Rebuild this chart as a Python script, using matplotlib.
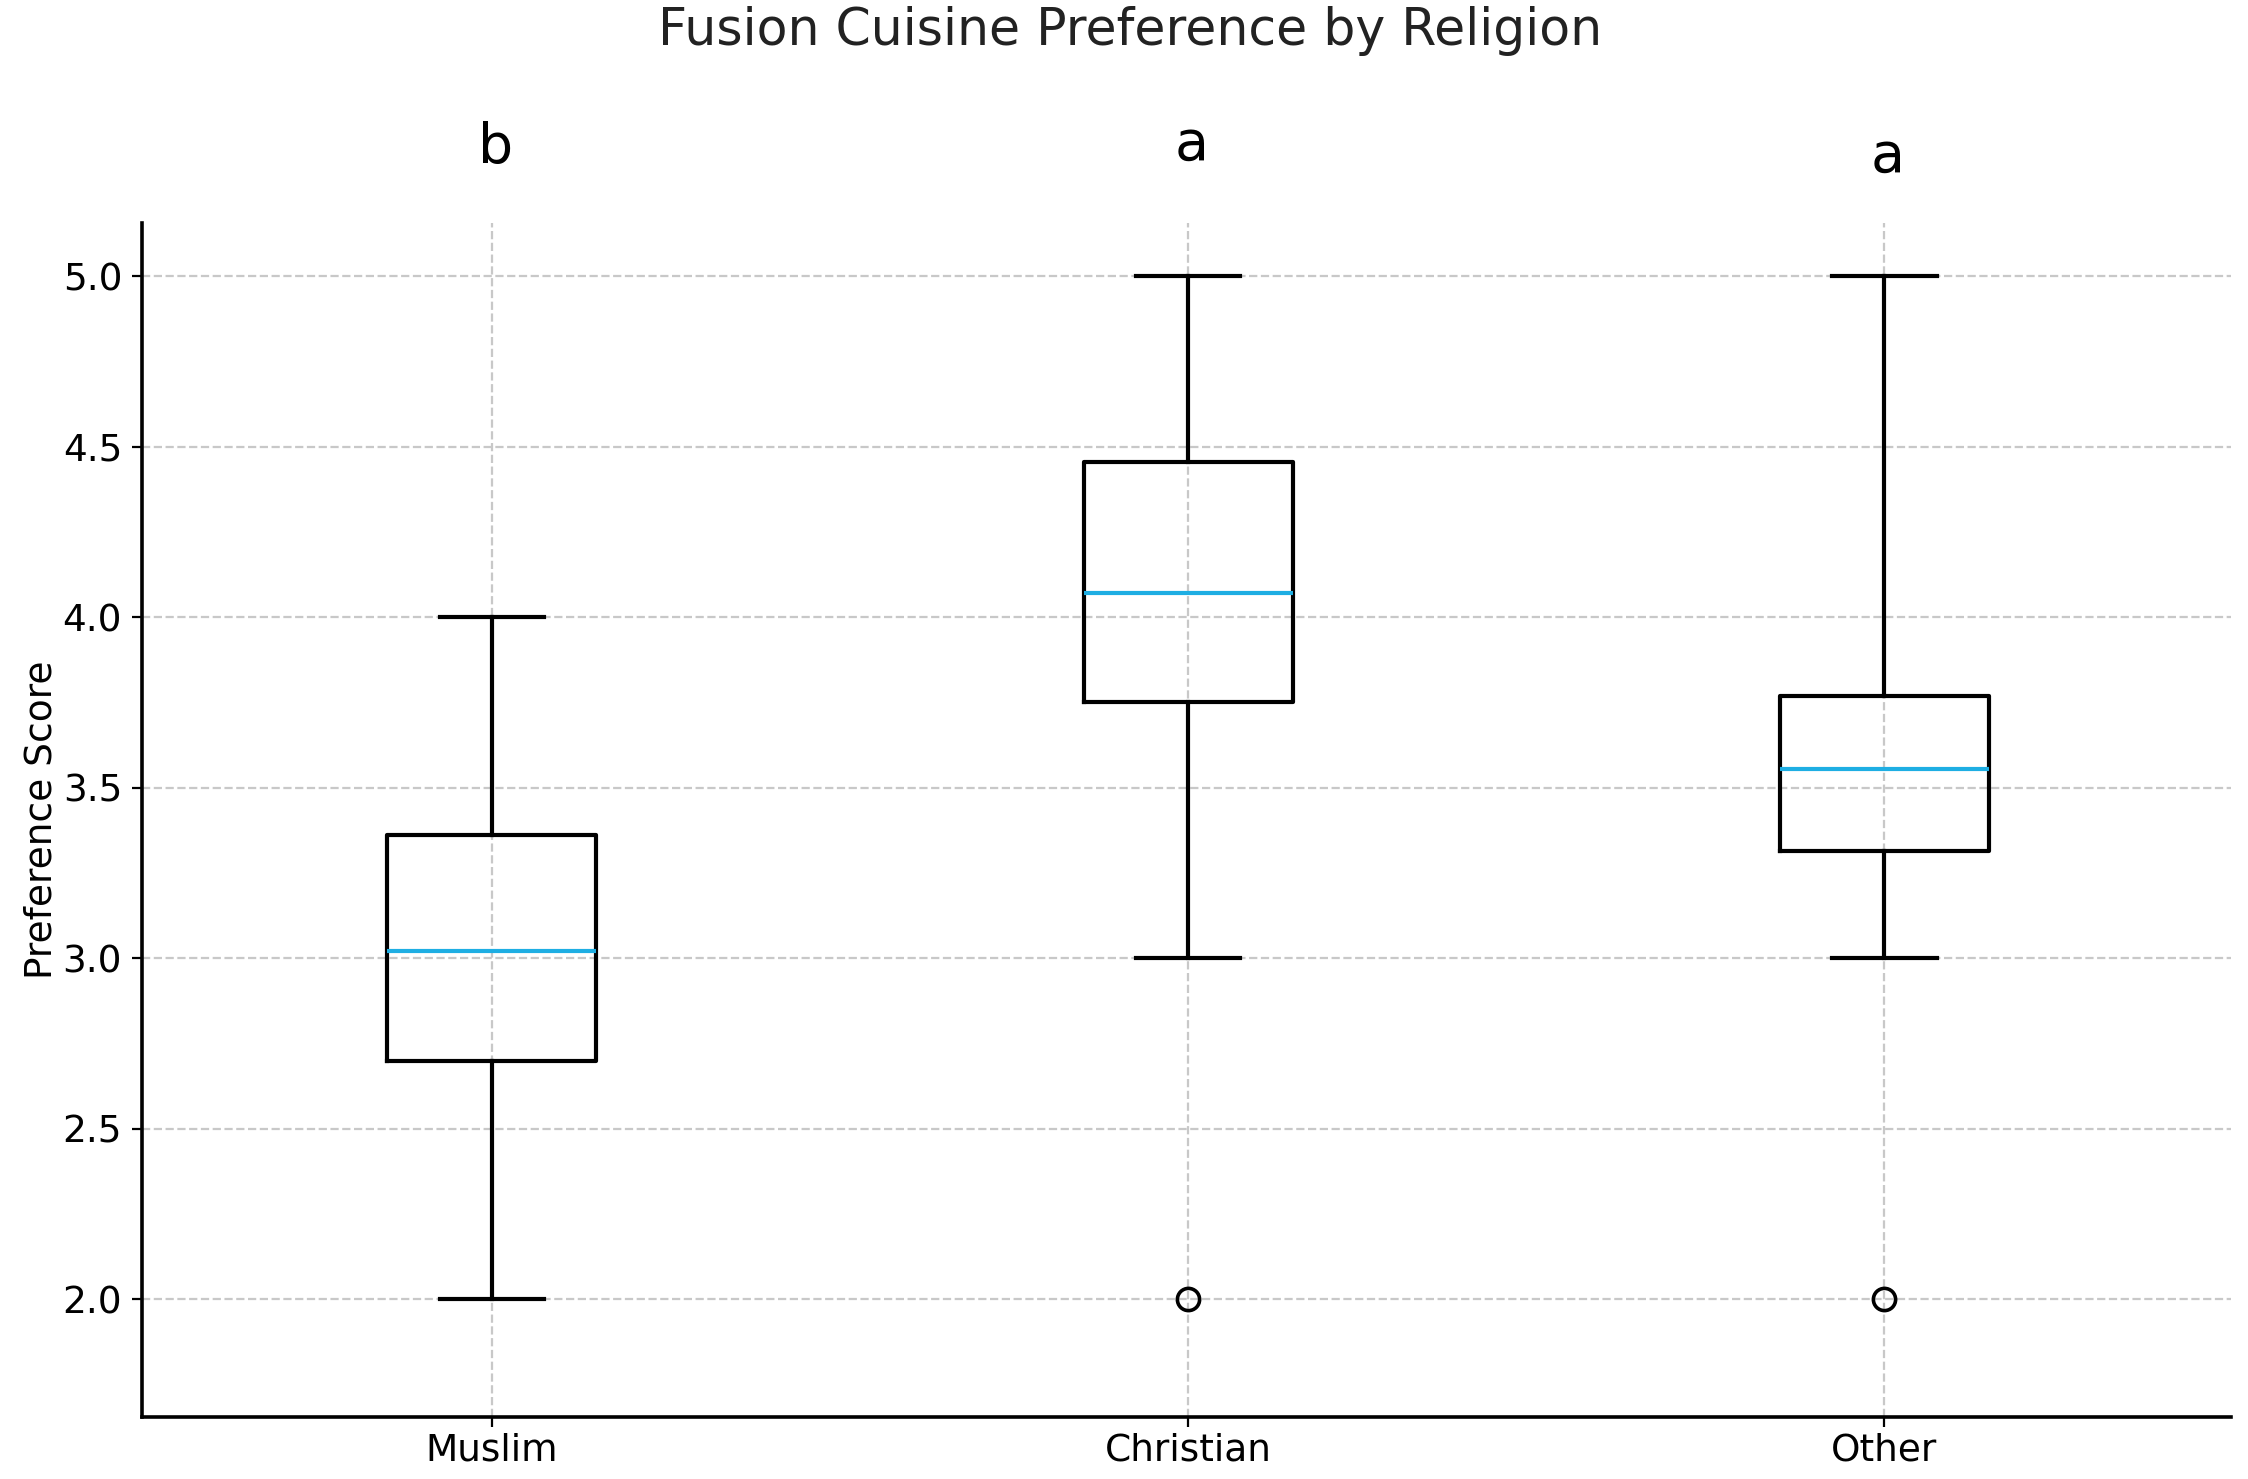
import numpy as np
import matplotlib
matplotlib.use("Agg")
import matplotlib.pyplot as plt

# box statistics
religions = ["Muslim", "Christian", "Other"]
q1 = [2.70, 3.75, 3.315]
medians = [3.02, 4.07, 3.555]
q3 = [3.36, 4.455, 3.77]
whislo = [2.0, 3.0, 3.0]
whishi = [4.0, 5.0, 5.0]
outliers = [[], [2.0], [2.0]]
letters = ["b", "a", "a"]
letter_y = [5.375, 5.385, 5.35]

stats = []
for i, name in enumerate(religions):
    stats.append({
        "label": name,
        "q1": q1[i], "med": medians[i], "q3": q3[i],
        "whislo": whislo[i], "whishi": whishi[i],
        "fliers": outliers[i],
    })

fig, ax = plt.subplots(figsize=(11.24, 7.395), dpi=200)

ax.bxp(stats, positions=[1, 2, 3], widths=0.3,
       boxprops=dict(color="black", linewidth=1.5),
       whiskerprops=dict(color="black", linewidth=1.5),
       capprops=dict(color="black", linewidth=1.5),
       medianprops=dict(color="#1eaee3", linewidth=1.5),
       flierprops=dict(marker="o", markerfacecolor="none",
                       markeredgecolor="black", markersize=8,
                       markeredgewidth=1.3))

# significance letters above each box
for i, let in enumerate(letters):
    ax.text(i + 1.005, letter_y[i], let, ha="center", va="center",
            fontsize=20, clip_on=False)

ax.set_xlim(0.497, 3.498)
ax.set_ylim(1.655, 5.155)
ax.set_yticks([2.0, 2.5, 3.0, 3.5, 4.0, 4.5, 5.0])
ax.set_yticklabels(["2.0", "2.5", "3.0", "3.5", "4.0", "4.5", "5.0"])
ax.tick_params(labelsize=13.5)
ax.tick_params(axis="x", pad=2)

ax.grid(True, linestyle="--", color="#c8c8c8", linewidth=0.8)
ax.set_axisbelow(True)
for s in ["top", "right"]:
    ax.spines[s].set_visible(False)
for s in ["left", "bottom"]:
    ax.spines[s].set_linewidth(1.3)

ax.set_ylabel("Preference Score", fontsize=13.5, labelpad=1)
fig.text(0.5026, 0.979, "Fusion Cuisine Preference by Religion",
         fontsize=18.2, color="#222222", ha="center", va="center")

fig.subplots_adjust(left=0.063, right=0.9925, top=0.849, bottom=0.042)
fig.savefig("out.png", dpi=200)
